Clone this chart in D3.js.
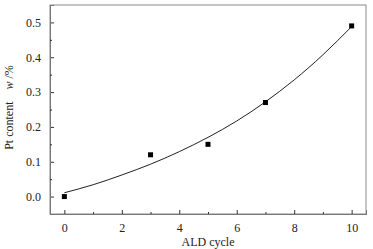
<!DOCTYPE html>
<html>
<head>
<meta charset="utf-8">
<script src="https://cdn.jsdelivr.net/npm/d3@7"></script>
<style>
  body { margin: 0; background: #fff; }
  svg text { font-family: "Liberation Serif", "Times New Roman", serif; }
</style>
</head>
<body>
<div id="chart"></div>
<script>
// measured points (ALD cycle vs Pt content)
const cycles = [0, 3, 5, 7, 10];
const ptContent = [0.0, 0.12, 0.15, 0.27, 0.49];

// fitted curve at each cycle
const fitCycles = [0, 1, 2, 3, 4, 5, 6, 7, 8, 9, 10];
const fitValues = [0.011, 0.034, 0.062, 0.093, 0.129, 0.170, 0.217, 0.272, 0.335, 0.407, 0.488];

const xTicks = [0, 2, 4, 6, 8, 10];
const xMinor = [1, 3, 5, 7, 9];
const yTicks = [0.0, 0.1, 0.2, 0.3, 0.4, 0.5];
const yMinor = [0.05, 0.15, 0.25, 0.35, 0.45];

const W = 373, H = 249;
const margin = {top: 5, right: 7, bottom: 35, left: 50};
const width = W - margin.left - margin.right;
const height = H - margin.top - margin.bottom;

const svg = d3.select("#chart").append("svg")
    .attr("width", W)
    .attr("height", H);

const g = svg.append("g")
    .attr("transform", `translate(${margin.left},${margin.top})`);

const x = d3.scaleLinear().domain([-0.5, 10.5]).range([0, width]);
const y = d3.scaleLinear().domain([-0.05, 0.55]).range([height, 0]);

// frame
g.append("rect")
    .attr("x", 0).attr("y", 0)
    .attr("width", width).attr("height", height)
    .attr("fill", "none")
    .attr("stroke", "#8a8a8a")
    .attr("stroke-width", 1);

// x axis, ticks pointing inward
g.append("g")
    .attr("transform", `translate(0,${height})`)
    .call(d3.axisBottom(x).tickValues(xTicks).tickSize(-4).tickPadding(9).tickFormat(d3.format("d")));
g.append("g")
    .attr("transform", `translate(0,${height})`)
    .call(d3.axisBottom(x).tickValues(xMinor).tickSize(-2).tickFormat(""));

// y axis
g.append("g")
    .call(d3.axisLeft(y).tickValues(yTicks).tickSize(-4).tickPadding(9).tickFormat(d3.format(".1f")));
g.append("g")
    .call(d3.axisLeft(y).tickValues(yMinor).tickSize(-2).tickFormat(""));

g.selectAll(".domain").attr("stroke", "#777");
g.selectAll(".tick line").attr("stroke", "#333");
g.selectAll(".tick text")
    .attr("fill", "#222")
    .attr("font-family", "Liberation Serif, Times New Roman, serif")
    .style("font-size", "12px");

// fit curve
const line = d3.line()
    .x((d, i) => x(fitCycles[i]))
    .y(d => y(d))
    .curve(d3.curveNatural);

g.append("path")
    .datum(fitValues)
    .attr("d", line)
    .attr("fill", "none")
    .attr("stroke", "#222")
    .attr("stroke-width", 1);

// square markers
const sq = 5;
g.selectAll(".pt")
    .data(cycles)
    .enter()
    .append("rect")
    .attr("class", "pt")
    .attr("x", d => x(d) - sq / 2)
    .attr("y", (d, i) => y(ptContent[i]) - sq / 2)
    .attr("width", sq)
    .attr("height", sq)
    .attr("fill", "#000");

// axis titles
svg.append("text")
    .attr("x", margin.left + width / 2)
    .attr("y", 246)
    .attr("text-anchor", "middle")
    .style("font-size", "12px")
    .attr("fill", "#222")
    .text("ALD cycle");

const yTitle = svg.append("text")
    .attr("transform", `translate(13,${margin.top + height / 2 - 2}) rotate(-90)`)
    .attr("text-anchor", "middle")
    .style("font-size", "12px")
    .attr("fill", "#222");
yTitle.append("tspan").text("Pt content");
yTitle.append("tspan").attr("dx", 12).style("font-style", "italic").text("w");
yTitle.append("tspan").text(" /%");
</script>
</body>
</html>
